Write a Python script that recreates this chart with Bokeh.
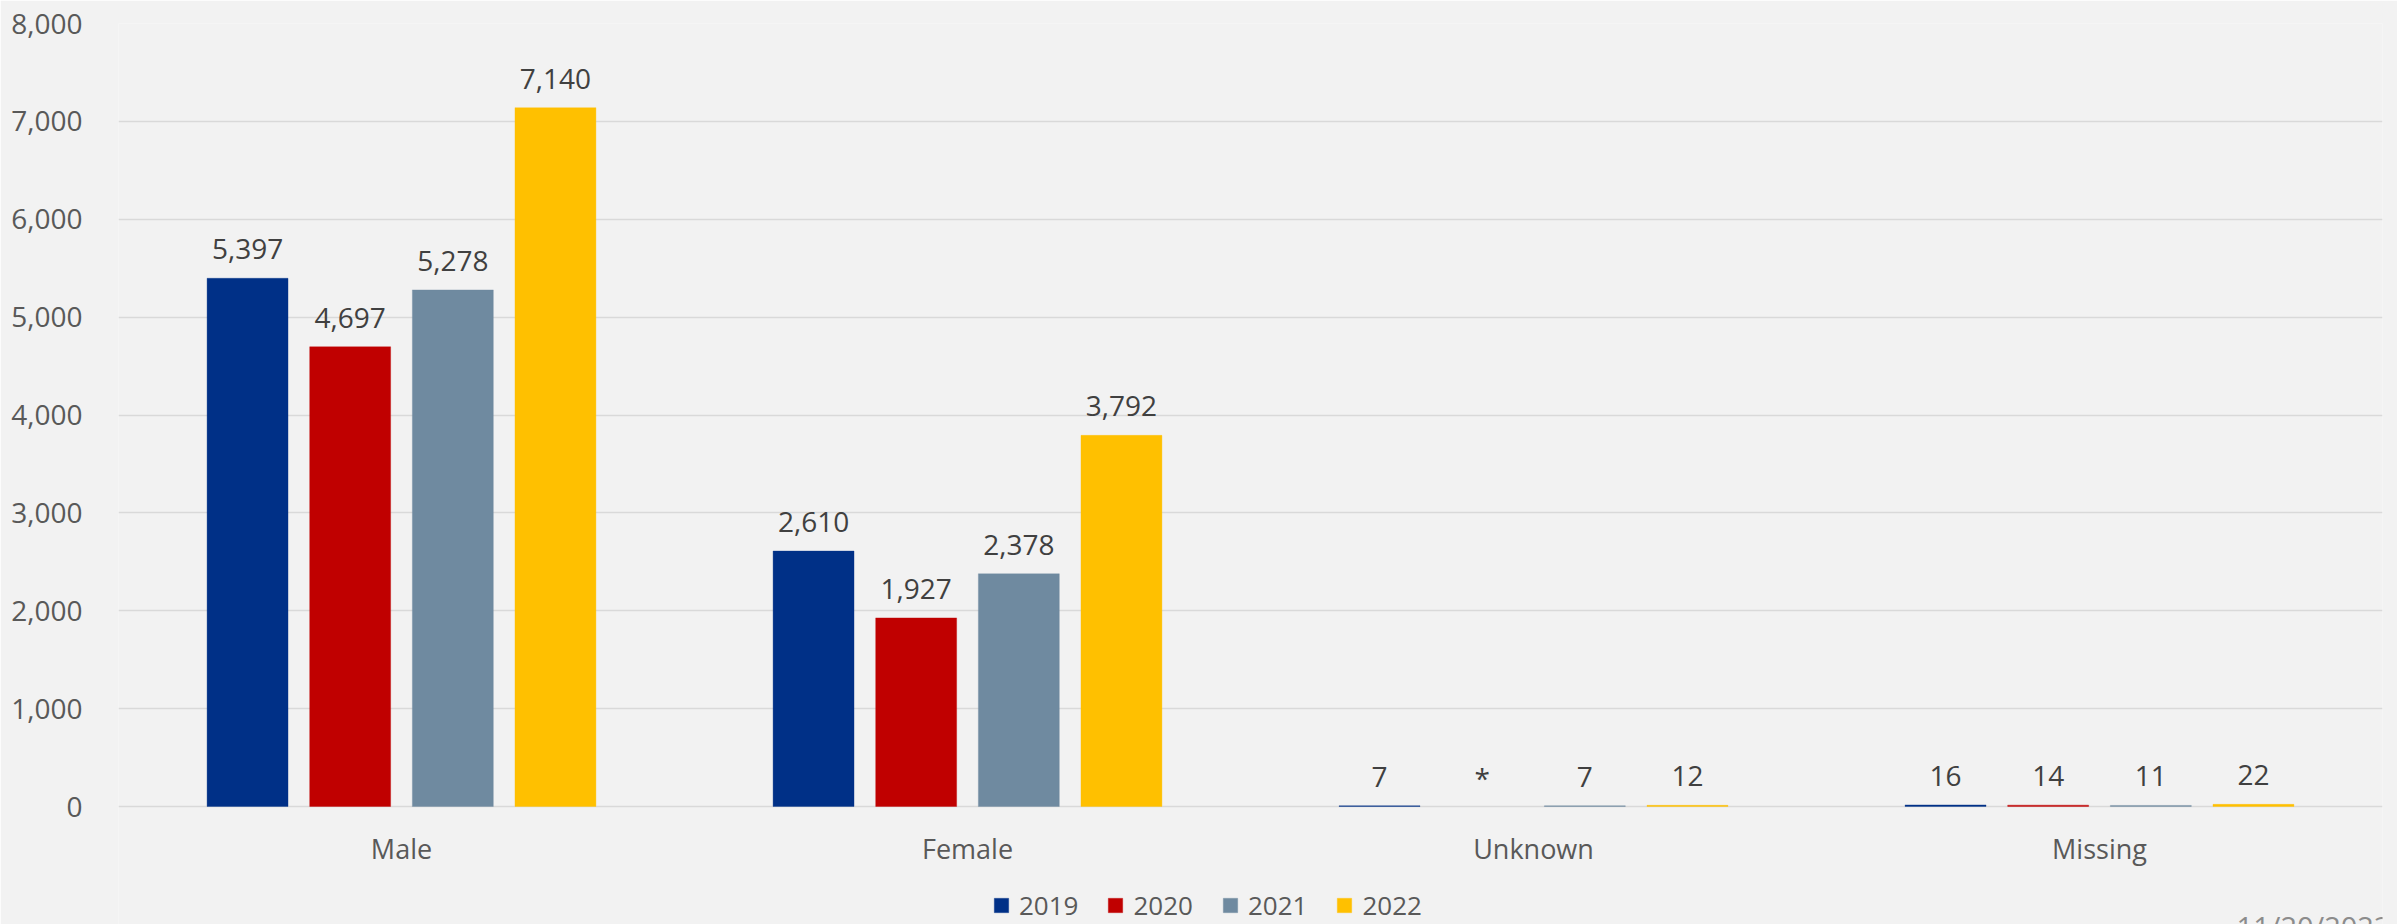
from bokeh.plotting import figure
from bokeh.models import (ColumnDataSource, FactorRange, Range1d, Legend, LegendItem,
                          Label, NumeralTickFormatter, FixedTicker)
from bokeh.transform import dodge
from bokeh.core.properties import value
from bokeh.embed import file_html
from bokeh.resources import INLINE

# ---- data ----
categories = ["Male", "Female", "Unknown", "Missing"]
years = ["2019", "2020", "2021", "2022"]
v2019 = [5397, 2610, 7, 16]
v2020 = [4697, 1927, None, 14]   # None = suppressed ("*")
v2021 = [5278, 2378, 7, 11]
v2022 = [7140, 3792, 12, 22]
y_ticks = [0, 1000, 2000, 3000, 4000, 5000, 6000, 7000, 8000]
date_text = "11/20/2023"

series = [v2019, v2020, v2021, v2022]
colors = ["#003087", "#C00000", "#6F8AA0", "#FFC000"]
offsets = [-0.272, -0.0907, 0.0907, 0.272]
bar_w = 0.143
FONT = "Open Sans"

# layout (pixels)
W, H = 2397, 924
TOP, LEFT, RIGHT = 23, 118, 15
AXIS_PX = 806 - TOP            # pixel height of the 0..8000 value span
Y_MAX = 8000
Y_MIN = -Y_MAX * (H - TOP - AXIS_PX) / AXIS_PX   # room below zero for labels/legend

data = {"cat": categories, "base": [0] * len(categories)}
for y, vals in zip(years, series):
    data["top_" + y] = [float("nan") if v is None else v for v in vals]
    data["ly_" + y] = [0 if v is None else v for v in vals]
    data["lt_" + y] = ["*" if v is None else f"{v:,}" for v in vals]
source = ColumnDataSource(data)

p = figure(width=W, height=H, x_range=FactorRange(*categories),
           y_range=Range1d(Y_MIN, Y_MAX), output_backend="svg", toolbar_location=None,
           x_axis_location=None,
           min_border_left=LEFT, min_border_right=RIGHT, min_border_top=TOP,
           min_border_bottom=0)
p.background_fill_color = "#F2F2F2"
p.border_fill_color = "#F2F2F2"
p.outline_line_color = None

p.xgrid.grid_line_color = None
p.ygrid.grid_line_color = "#D9D9D9"
p.ygrid.grid_line_width = 1.5
p.ygrid.ticker = FixedTicker(ticks=y_ticks)

p.yaxis.ticker = FixedTicker(ticks=y_ticks)
p.yaxis.formatter = NumeralTickFormatter(format="0,0")
p.yaxis.axis_line_color = None
p.yaxis.major_tick_line_color = None
p.yaxis.minor_tick_line_color = None
p.yaxis.major_label_standoff = 30
p.yaxis.major_label_text_font = FONT
p.yaxis.major_label_text_font_size = "28px"
p.yaxis.major_label_text_color = "#595959"

# category labels under the zero line
p.text(x="cat", y="base", text="cat", source=source, text_align="center",
       text_baseline="middle", y_offset=42, text_font=value(FONT),
       text_font_size="27px", text_color="#595959")

items = []
for y, off, c in zip(years, offsets, colors):
    r = p.vbar(x=dodge("cat", off, range=p.x_range), top="top_" + y, width=bar_w,
               source=source, fill_color=c, line_color=c, line_alpha=0.35)
    p.text(x=dodge("cat", off, range=p.x_range), y="ly_" + y, text="lt_" + y,
           source=source, text_align="center", text_baseline="alphabetic",
           y_offset=-29, text_font=value(FONT), text_font_size="28px",
           text_color="#404040")
    items.append(LegendItem(label=y, renderers=[r]))

legend = Legend(items=items, orientation="horizontal", location=(874, 1),
                padding=0, margin=0, spacing=28, label_standoff=9,
                glyph_width=18, glyph_height=18, label_height=20,
                label_text_font=FONT, label_text_font_size="26px",
                label_text_color="#595959", border_line_color=None,
                background_fill_alpha=0)
p.add_layout(legend)

p.add_layout(Label(x=W - LEFT - 7, y=18, x_units="screen", y_units="screen",
                   text=date_text, text_align="right", text_baseline="top",
                   text_font=FONT, text_font_size="29px", text_color="#8C8C8C"))

open("out.html", "w").write(file_html(p, INLINE))
